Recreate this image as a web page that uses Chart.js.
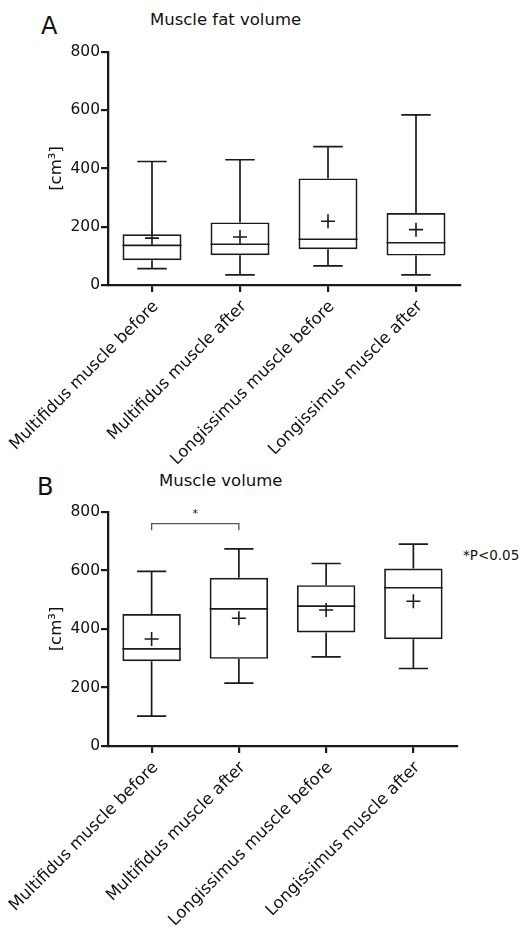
<!DOCTYPE html>
<html>
<head>
<meta charset="utf-8">
<script src="https://cdn.jsdelivr.net/npm/chart.js@4.4.0/dist/chart.umd.min.js"></script>
<style>
  body { margin: 0; background: #fff; width: 521px; height: 928px; position: relative; overflow: hidden; }
  .txt { position: absolute; font-family: "DejaVu Sans", sans-serif; color: #111; line-height: 1; white-space: nowrap; }
  canvas { position: absolute; left: 0; }
</style>
</head>
<body>
<div class="txt" style="left:41px; top:14px; font-size:24px;">A</div>
<div class="txt" style="left:150px; top:12px; font-size:16.5px;">Muscle fat volume</div>
<div class="txt" style="left:37px; top:475px; font-size:24px;">B</div>
<div class="txt" style="left:159px; top:473px; font-size:16.5px;">Muscle volume</div>
<div class="txt" style="left:463px; top:549px; font-size:13.5px;">*P&lt;0.05</div>

<div style="position:absolute; left:0; top:0; width:521px; height:480px;"><canvas id="chartA"></canvas></div>
<div style="position:absolute; left:0; top:460px; width:521px; height:468px;"><canvas id="chartB"></canvas></div>

<script>
// Categorías
const categorias = ['Multifidus muscle before', 'Multifidus muscle after', 'Longissimus muscle before', 'Longissimus muscle after'];
const ticksY = [0, 200, 400, 600, 800];

// A: volumen de grasa muscular
const grasaMin = [56, 35, 66, 35];
const grasaQ1 = [85, 102, 123, 101];
const grasaMediana = [136, 140, 157, 145];
const grasaQ3 = [174, 215, 366, 247];
const grasaMax = [424, 430, 475, 584];
const grasaMedia = [161, 165, 219, 190];

// B: volumen muscular
const volMin = [102, 215, 305, 265];
const volQ1 = [290, 298, 388, 365];
const volMediana = [332, 469, 478, 541];
const volQ3 = [451, 575, 550, 607];
const volMax = [597, 674, 624, 690];
const volMedia = [366, 437, 465, 495];

// Comparación significativa en B
const sigPar = [0, 1];
const sigNivel = 760;
const sigBase = 738;
const sigTexto = '*';

const colorLinea = '#1a1a1a';
const colorTexto = '#111';
const fuente = '"DejaVu Sans", sans-serif';

// Bigotes, topes y mediana dibujados con las escalas
const bigotesPlugin = {
  id: 'bigotes',
  afterDatasetsDraw(chart) {
    const { ctx, scales: { y } } = chart;
    const ds = chart.data.datasets[0];
    const meta = chart.getDatasetMeta(0);
    ctx.save();
    ctx.strokeStyle = colorLinea;
    ctx.lineWidth = 1.7;
    meta.data.forEach((bar, i) => {
      const x = bar.x, w = bar.width, c = w / 4;
      const yMin = y.getPixelForValue(ds.minimos[i]);
      const yMax = y.getPixelForValue(ds.maximos[i]);
      const yQ1 = y.getPixelForValue(ds.data[i][0]);
      const yQ3 = y.getPixelForValue(ds.data[i][1]);
      const yMed = y.getPixelForValue(ds.medianas[i]);
      ctx.beginPath();
      ctx.moveTo(x, yMax); ctx.lineTo(x, yQ3);
      ctx.moveTo(x, yQ1); ctx.lineTo(x, yMin);
      ctx.moveTo(x - c, yMax); ctx.lineTo(x + c, yMax);
      ctx.moveTo(x - c, yMin); ctx.lineTo(x + c, yMin);
      ctx.moveTo(x - w / 2, yMed); ctx.lineTo(x + w / 2, yMed);
      ctx.stroke();
    });
    ctx.restore();
  }
};

// Corchete de significancia
const corchetePlugin = {
  id: 'corchete',
  afterDatasetsDraw(chart) {
    const { ctx, scales: { x, y } } = chart;
    const x1 = x.getPixelForValue(sigPar[0]);
    const x2 = x.getPixelForValue(sigPar[1]);
    const yN = y.getPixelForValue(sigNivel);
    const yB = y.getPixelForValue(sigBase);
    ctx.save();
    ctx.strokeStyle = '#555';
    ctx.lineWidth = 1.3;
    ctx.beginPath();
    ctx.moveTo(x1, yB); ctx.lineTo(x1, yN); ctx.lineTo(x2, yN); ctx.lineTo(x2, yB);
    ctx.stroke();
    ctx.fillStyle = colorTexto;
    ctx.font = '11px ' + fuente;
    ctx.textAlign = 'center';
    ctx.textBaseline = 'bottom';
    ctx.fillText(sigTexto, (x1 + x2) / 2, yN - 4);
    ctx.restore();
  }
};

function crearBoxplot(id, q1, q3, mediana, min, max, media, derecha, altoX, extras) {
  const ctx = document.getElementById(id).getContext('2d');
  return new Chart(ctx, {
    type: 'bar',
    data: {
      labels: categorias,
      datasets: [{
        type: 'bar',
        data: q1.map((v, i) => [v, q3[i]]),
        minimos: min,
        maximos: max,
        medianas: mediana,
        backgroundColor: 'rgba(255,255,255,0)',
        borderColor: colorLinea,
        borderWidth: 1.7,
        borderSkipped: false,
        barPercentage: 1,
        categoryPercentage: 0.67
      }, {
        type: 'line',
        data: media,
        showLine: false,
        pointStyle: 'cross',
        pointRadius: 7,
        pointBorderWidth: 1.6,
        pointBorderColor: colorLinea,
        pointBackgroundColor: colorLinea
      }]
    },
    options: {
      responsive: true,
      maintainAspectRatio: false,
      animation: false,
      layout: { padding: { top: 52, right: derecha, left: 0, bottom: 0 } },
      plugins: {
        legend: { display: false },
        tooltip: { enabled: false }
      },
      scales: {
        x: {
          offset: true,
          afterFit: (s) => { s.height = altoX; s.paddingLeft = 0; s.paddingRight = 0; },
          grid: { display: true, offset: false, drawOnChartArea: false, drawTicks: true, tickLength: 7, color: colorLinea, lineWidth: 2.2 },
          border: { display: true, color: colorLinea, width: 2.3 },
          ticks: {
            autoSkip: false, minRotation: 45, maxRotation: 45, padding: 5, labelOffset: 4,
            color: colorTexto, font: { family: fuente, size: 16.5 }
          }
        },
        y: {
          min: 0, max: 800,
          afterFit: (s) => { s.width = 108; s.paddingTop = 0; s.paddingBottom = 0; },
          afterBuildTicks: (s) => { s.ticks = ticksY.map(v => ({ value: v })); },
          grid: { display: true, drawOnChartArea: false, drawTicks: true, tickLength: 7, color: colorLinea, lineWidth: 2.2 },
          border: { display: true, color: colorLinea, width: 2.3 },
          ticks: { padding: 1, color: colorTexto, font: { family: fuente, size: 15.5 } },
          title: { display: true, text: '[cm³]', color: colorTexto, font: { family: fuente, size: 16.5 }, padding: { top: 47, bottom: 0 } }
        }
      }
    },
    plugins: [bigotesPlugin].concat(extras || [])
  });
}

crearBoxplot('chartA', grasaQ1, grasaQ3, grasaMediana, grasaMin, grasaMax, grasaMedia, 61, 195);
crearBoxplot('chartB', volQ1, volQ3, volMediana, volMin, volMax, volMedia, 64, 182, [corchetePlugin]);
</script>
</body>
</html>
